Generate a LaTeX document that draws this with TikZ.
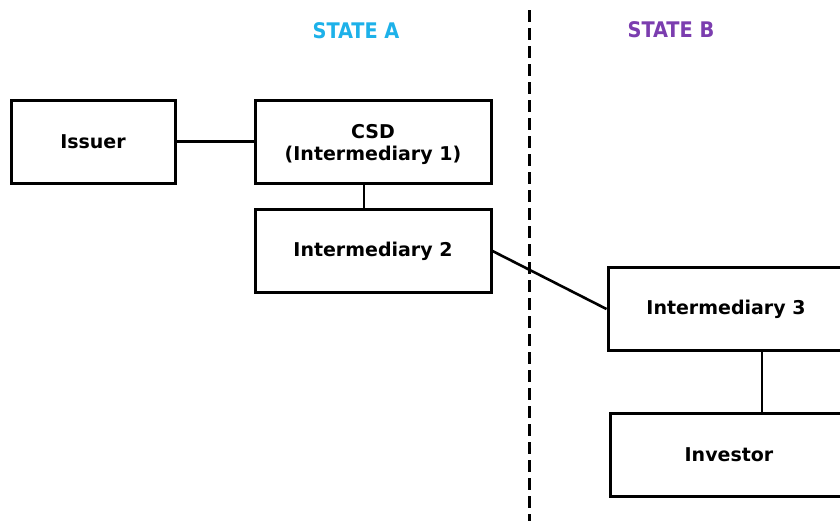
\documentclass[tikz,border=0pt]{standalone}
\usepackage{fontspec}
\setmainfont{DejaVu Sans}
\newfontfamily\condfont{DejaVu Sans Condensed}
\definecolor{stateA}{HTML}{1DB1E9}
\definecolor{stateB}{HTML}{7B3DAF}
\begin{document}
\begin{tikzpicture}[x=1pt,y=-1pt,
  boxtext/.style={font=\fontsize{19}{22}\selectfont\bfseries,align=center},
  box/.style={draw=black,line width=3pt,rectangle,inner sep=0pt,boxtext},
  link/.style={draw=black,line width=2.6pt},
  statelbl/.style={font=\condfont\fontsize{21.5}{24}\selectfont\bfseries,inner sep=0pt}]
\useasboundingbox (0,0) rectangle (840,520);
\clip (0,0) rectangle (840,520);
\draw[line width=3pt,dash pattern=on 12pt off 6pt] (529,10) -- (529,522);
\node[statelbl,text=stateA] (sa) at (356,31) {STATE A};
\node[statelbl,text=stateB] (sb) at (671,30) {STATE B};
\node[box,minimum width=164pt,minimum height=83pt] (issuer) at (93,141.5) {Issuer};
\node[box,minimum width=236pt,minimum height=83pt,
  label={[boxtext,yshift=-3pt]center:CSD\\(Intermediary 1)}] (csd) at (373,141.5) {};
\node[box,minimum width=236pt,minimum height=83pt] (int2) at (373,251) {Intermediary 2};
\node[box,minimum width=236pt,minimum height=83pt] (int3) at (726,309) {Intermediary 3};
\node[box,minimum width=238pt,minimum height=83pt] (inv) at (729,455) {Investor};
\draw[link] (issuer.east) -- (csd.west);
\draw[link] (csd.south -| 364,0) -- (int2.north -| 364,0);
\draw[link] (int2.east) -- (int3.west);
\draw[link] (int3.south -| 762,0) -- (inv.north -| 762,0);
\end{tikzpicture}
\end{document}
